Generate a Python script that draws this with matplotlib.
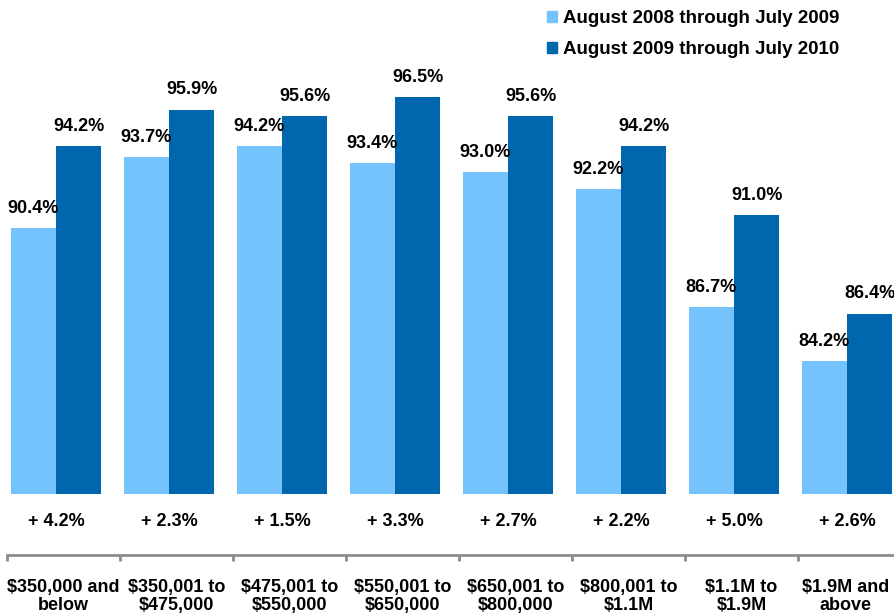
import numpy as np
import matplotlib.pyplot as plt
from matplotlib.patches import Patch

plt.rcParams['font.family'] = ['Liberation Sans', 'DejaVu Sans']
plt.rcParams['font.weight'] = 'bold'

# data
categories = ["$350,000 and\nbelow", "$350,001 to\n$475,000", "$475,001 to\n$550,000",
              "$550,001 to\n$650,000", "$650,001 to\n$800,000", "$800,001 to\n$1.1M",
              "$1.1M to\n$1.9M", "$1.9M and\nabove"]
series_names = ["August 2008 through July 2009", "August 2009 through July 2010"]
pct_2009 = [90.4, 93.7, 94.2, 93.4, 93.0, 92.2, 86.7, 84.2]
pct_2010 = [94.2, 95.9, 95.6, 96.5, 95.6, 94.2, 91.0, 86.4]
change_labels = ["+ 4.2%", "+ 2.3%", "+ 1.5%", "+ 3.3%", "+ 2.7%", "+ 2.2%", "+ 5.0%", "+ 2.6%"]

light = '#75C3FC'
dark = '#0066AE'
grey = '#8C8C8C'
fs = 13

fig = plt.figure(figsize=(8.94, 6.16), dpi=100)
ax = fig.add_axes([0, 122 / 616, 1, 494 / 616])

x = np.arange(len(categories))
w = 0.4
b1 = ax.bar(x - w / 2, pct_2009, w, color=light, label=series_names[0])
b2 = ax.bar(x + w / 2, pct_2010, w, color=dark, label=series_names[1])

for bars, vals in [(b1, pct_2009), (b2, pct_2010)]:
    for rect, v in zip(bars, vals):
        ax.annotate(f"{v:.1f}%", (rect.get_x() + rect.get_width() / 2, v),
                    xytext=(0, 8), textcoords='offset points',
                    ha='center', va='bottom', fontsize=fs, fontweight='bold')

for xi, lab in zip(x, change_labels):
    ax.annotate(lab, (xi, 0), xycoords=('data', 'axes fraction'),
                xytext=(0, -19.5), textcoords='offset points',
                ha='center', va='center', fontsize=fs, fontweight='bold')

xmin, xmax = -0.496, 7.416
ax.set_xlim(xmin, xmax)
ax.set_ylim(78, 101)

# category axis, shifted slightly from the bar groups
shift = 0.066
bounds = x - 0.5 + shift
edges = list(bounds) + [xmax]
mids = [(edges[i] + edges[i + 1]) / 2 for i in range(len(categories))]

for s in ['top', 'right', 'left']:
    ax.spines[s].set_visible(False)
ax.spines['bottom'].set_position(('outward', 44))
ax.spines['bottom'].set_color(grey)
ax.spines['bottom'].set_linewidth(2)
ax.spines['bottom'].set_bounds(bounds[0], xmax)
ax.set_yticks([])
ax.set_xticks(bounds)
ax.set_xticklabels([])
ax.tick_params(axis='x', which='major', direction='out', length=4, width=2, color=grey)
ax.set_xticks(mids, minor=True)
ax.set_xticklabels(categories, minor=True, fontsize=fs, fontweight='bold',
                   linespacing=1.1)
ax.tick_params(axis='x', which='minor', length=0, pad=17)

handles = [Patch(color=light), Patch(color=dark)]
ax.legend(handles, series_names, loc='upper left', bbox_to_anchor=(547 / 894, 1 - 10 / 616),
          bbox_transform=fig.transFigure, frameon=False, borderpad=0, borderaxespad=0,
          handlelength=0.55, handleheight=0.55, handletextpad=0.3, labelspacing=0.75,
          prop={'size': 13.5, 'weight': 'bold'})

fig.savefig('out.png', dpi=100)
